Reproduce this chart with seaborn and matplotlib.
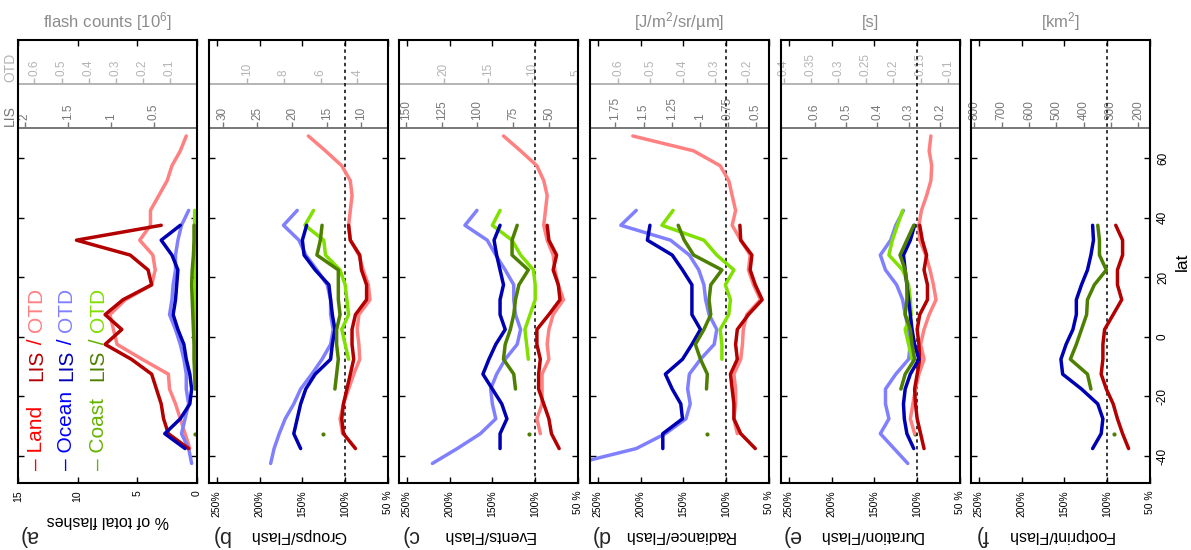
import numpy as np
import matplotlib
matplotlib.use("Agg")
import matplotlib.pyplot as plt
import seaborn as sns

sns.set_theme(style="white")
plt.rcParams["font.family"] = ["Liberation Sans", "DejaVu Sans"]
plt.rcParams["mathtext.fontset"] = "custom"
plt.rcParams["mathtext.rm"] = "Liberation Sans"
plt.rcParams["mathtext.default"] = "regular"

N = None

# latitude bin centres (deg)
LAT = [67.5, 62.5, 57.5, 52.5, 47.5, 42.5, 37.5, 32.5, 27.5, 22.5, 17.5, 12.5,
       7.5, 2.5, -2.5, -7.5, -12.5, -17.5, -22.5, -27.5, -32.5, -37.5, -42.5]

# a) % of total flashes
A_LAND_LIS = [N, N, N, N, N, N, 3.0, 10.1, 5.6, 4.1, 3.8, 6.2, 7.7, 6.3, 7.7, 5.5, 3.8, 3.4, 3.0, 2.8, 2.4, 0.7, N]
A_LAND_OTD = [0.9, 1.4, 2.1, 2.5, 3.2, 3.9, 3.9, 4.8, 3.7, 3.5, 3.8, 6.0, 7.3, 7.0, 6.7, 4.6, 2.4, 2.3, 1.8, 1.4, 1.0, 0.6, N]
A_OCEAN_LIS = [N, N, N, N, N, N, 1.4, 3.0, 2.1, 1.6, 1.7, 1.8, 2.0, 1.6, 1.1, 0.9, 0.6, 0.45, 0.6, 1.4, 2.7, 1.0, N]
A_OCEAN_OTD = [N, N, N, N, N, 0.7, 1.3, 1.6, 1.8, 1.8, 2.0, 2.1, 2.3, 1.8, 1.4, 1.1, 0.9, 0.9, 0.7, 1.0, 1.3, 0.7, 0.45]
A_COAST_LIS = [N, N, N, N, N, N, 0.25, 0.25, 0.3, 0.4, 0.45, 0.4, 0.35, 0.3, 0.25, 0.25, 0.2, 0.15, N, N, 0.15, N, N]
A_COAST_OTD = [N, N, N, N, N, 0.2, 0.2, 0.18, 0.15, 0.15, 0.15, 0.15, 0.15, 0.15, 0.15, 0.15, 0.15, 0.15, N, N, N, N, N]

# b) Groups/Flash (% of mean)
B_LAND_LIS = [N, N, N, N, N, N, 96, 94, 83, 81, 75, 75, 88, 92, 92, 90, 94, 98, 102, 104, 102, 88, N]
B_LAND_OTD = [143, 123, 104, 94, 92, 94, 96, 94, 84, 79, 73, 71, 84, 86, 84, 83, 90, 96, 102, 106, 103, N, N]
B_OCEAN_LIS = [N, N, N, N, N, N, 145, 150, 148, 135, 119, 117, 115, 112, 115, 117, 135, 146, 152, 156, 160, 152, N]
B_OCEAN_OTD = [N, N, N, N, N, 156, 172, 154, 146, 133, 121, 117, 117, 114, 117, 127, 139, 152, 160, 170, 177, 183, 187]
B_COAST_LIS = [N, N, N, N, N, N, 127, 129, 133, 108, 108, 108, 106, 110, 110, 108, 110, 112, N, N, 126, N, N]
B_COAST_OTD = [N, N, N, N, N, 137, 147, 125, 123, 106, 100, 98, 96, 104, 100, 96, N, N, N, N, N, N, N]

# c) Events/Flash
C_LAND_LIS = [N, N, N, N, N, N, 86, 84, 75, 79, 73, 71, 84, 98, 98, 94, 96, 96, 90, 84, 81, 72, N]
C_LAND_OTD = [137, 117, 98, 90, 86, 88, 90, 86, 79, 77, 73, 67, 79, 84, 86, 84, 92, 92, 92, 98, 94, N, N]
C_OCEAN_LIS = [N, N, N, N, N, N, 141, 148, 145, 141, 137, 141, 141, 135, 146, 154, 161, 150, 139, 133, 141, 141, N]
C_OCEAN_OTD = [N, N, N, N, N, 168, 182, 156, 146, 135, 125, 125, 123, 117, 121, 135, 145, 152, 150, 146, 164, 191, 220]
C_COAST_LIS = [N, N, N, N, N, N, 121, 127, 127, 108, 119, 123, 125, 129, 135, 137, 125, 123, N, N, 107, N, N]
C_COAST_OTD = [N, N, N, N, N, 141, 150, 127, 117, 102, 100, 100, 106, 112, 110, 108, N, N, N, N, N, N, N]

# d) Radiance/Flash
D_LAND_LIS = [N, N, N, N, N, N, 84, 83, 70, 72, 66, 58, 74, 87, 89, 87, 95, 93, 91, 91, 83, 66, N]
D_LAND_OTD = [209, 138, 107, 97, 93, 89, 93, 83, 72, 74, 68, 60, 76, 80, 81, 83, 91, 89, 89, 91, 87, N, N]
D_OCEAN_LIS = [N, N, N, N, N, N, 189, 192, 163, 151, 140, 140, 140, 130, 140, 151, 171, 163, 153, 151, 174, 174, N]
D_OCEAN_OTD = [N, N, N, N, N, 205, 223, 165, 143, 132, 126, 124, 120, 111, 114, 130, 143, 145, 142, 147, 171, 205, 275]
D_COAST_LIS = [N, N, N, N, N, N, 156, 149, 138, 105, 118, 120, 118, 126, 136, 130, 122, 123, N, N, 122, N, N]
D_COAST_OTD = [N, N, N, N, N, 162, 175, 126, 111, 91, 101, 95, 97, 107, 105, 105, N, N, N, N, N, N, N]

# e) Duration/Flash
E_LAND_LIS = [N, N, N, N, N, N, 97, 94, 89, 92, 88, 88, 97, 100, 98, 97, 100, 103, 102, 100, 96, 92, N]
E_LAND_OTD = [84, 86, 83, 84, 89, 95, 98, 97, 90, 85, 81, 78, 86, 92, 96, 92, 98, 102, 105, 108, 103, N, N]
E_OCEAN_LIS = [N, N, N, N, N, N, 103, 108, 116, 114, 112, 110, 108, 106, 103, 98, 108, 114, 116, 115, 112, 104, N]
E_OCEAN_OTD = [N, N, N, N, N, 116, 125, 131, 143, 137, 124, 117, 114, 110, 108, 110, 125, 137, 137, 133, 143, 127, 111]
E_COAST_LIS = [N, N, N, N, N, N, 104, 112, 120, 114, 112, 112, 114, 108, 106, 103, 114, 119, N, N, 103, N, N]
E_COAST_OTD = [N, N, N, N, N, 117, 123, 129, 133, 117, 110, 108, 107, 114, 110, 106, N, N, N, N, N, N, N]

# f) Footprint/Flash (LIS only)
F_LAND_LIS = [N, N, N, N, N, N, 90, 82, 82, 88, 88, 83, 93, 103, 105, 105, 107, 101, 93, 88, 82, 75, N]
F_OCEAN_LIS = [N, N, N, N, N, N, 117, 116, 119, 123, 130, 136, 136, 140, 148, 154, 152, 130, 111, 105, 107, 117, N]
F_COAST_LIS = [N, N, N, N, N, N, 111, 109, 109, 101, 115, 123, 124, 130, 136, 143, 123, 119, N, N, 92, N, N]

LETTERS = ["a)", "b)", "c)", "d)", "e)", "f)"]
XLABELS = ["% of total flashes", "Groups/Flash", "Events/Flash", "Radiance/Flash",
           "Duration/Flash", "Footprint/Flash"]
UNITS = ["flash counts [10$^6$]", "", "", "[J/m$^2$/sr/µm]", "[s]", "[km$^2$]"]

# header scales: absolute value -> plotted percentage factor
LIS_FACTOR = [7.22, 8.1, 1.674, 131, 366, 0.319]
OTD_FACTOR = [22.7, 21.45, 10.35, 377, 640, None]
LIS_TICKS = [[2, 1.5, 1, 0.5], [30, 25, 20, 15, 10], [150, 125, 100, 75, 50],
             [1.75, 1.5, 1.25, 1, 0.75, 0.5], [0.6, 0.5, 0.4, 0.3, 0.2],
             [800, 700, 600, 500, 400, 300, 200]]
OTD_TICKS = [[0.6, 0.5, 0.4, 0.3, 0.2, 0.1], [10, 8, 6, 4], [20, 15, 10, 5],
             [0.6, 0.5, 0.4, 0.3, 0.2], [0.4, 0.35, 0.3, 0.25, 0.2, 0.15, 0.1], []]

PCT_TICKS = [250, 200, 150, 100, 50]
PCT_LABELS = ["250%", "200%", "150%", "100%", "50 %"]
A_TICKS = [15, 10, 5, 0]
LAT_TICKS = [-40, -20, 0, 20, 40, 60]

COL = {"land_lis": "#b30000", "land_otd": "#ff8080",
       "ocean_lis": "#0000b3", "ocean_otd": "#8080ff",
       "coast_lis": "#4d7f00", "coast_otd": "#80e000"}

SERIES = [
    [("land_otd", A_LAND_OTD), ("ocean_otd", A_OCEAN_OTD), ("coast_otd", A_COAST_OTD),
     ("land_lis", A_LAND_LIS), ("ocean_lis", A_OCEAN_LIS), ("coast_lis", A_COAST_LIS)],
    [("land_otd", B_LAND_OTD), ("ocean_otd", B_OCEAN_OTD), ("coast_otd", B_COAST_OTD),
     ("land_lis", B_LAND_LIS), ("ocean_lis", B_OCEAN_LIS), ("coast_lis", B_COAST_LIS)],
    [("land_otd", C_LAND_OTD), ("ocean_otd", C_OCEAN_OTD), ("coast_otd", C_COAST_OTD),
     ("land_lis", C_LAND_LIS), ("ocean_lis", C_OCEAN_LIS), ("coast_lis", C_COAST_LIS)],
    [("land_otd", D_LAND_OTD), ("ocean_otd", D_OCEAN_OTD), ("coast_otd", D_COAST_OTD),
     ("land_lis", D_LAND_LIS), ("ocean_lis", D_OCEAN_LIS), ("coast_lis", D_COAST_LIS)],
    [("land_otd", E_LAND_OTD), ("ocean_otd", E_OCEAN_OTD), ("coast_otd", E_COAST_OTD),
     ("land_lis", E_LAND_LIS), ("ocean_lis", E_OCEAN_LIS), ("coast_lis", E_COAST_LIS)],
    [("land_lis", F_LAND_LIS), ("ocean_lis", F_OCEAN_LIS), ("coast_lis", F_COAST_LIS)],
]

LIS_GRAY = "#777777"
OTD_GRAY = "#b4b4b4"

# layout (pixels of the 1191x550 canvas)
W, H = 1191, 550
LEFTS = [18, 209, 399, 590, 781, 971]
BOX_W, BOX_TOP, BOX_BOT = 179, 40, 483
LIS_LINE = (BOX_BOT - 128) / (BOX_BOT - BOX_TOP)
OTD_LINE = (BOX_BOT - 84) / (BOX_BOT - BOX_TOP)
YLIM = (-49.07, 99.74)


def draw_series(ax, vals, color):
    v = np.array([np.nan if x is None else x for x in vals], float)
    lat = np.array(LAT, float)
    idx = np.flatnonzero(~np.isnan(v))
    runs = np.split(idx, np.where(np.diff(idx) > 1)[0] + 1)
    for r in runs:
        if len(r) > 1:
            sns.lineplot(x=v[r], y=lat[r], orient="y", sort=False, estimator=None,
                         color=color, linewidth=2.5, ax=ax, legend=False)
        elif len(r) == 1:
            sns.scatterplot(x=v[r], y=lat[r], color=color, s=9, linewidth=0,
                            ax=ax, legend=False)


def add_scale(ax, loc, k, ticks, color):
    sec = ax.secondary_xaxis(loc, functions=(lambda p, k=k: p / k, lambda v, k=k: v * k))
    sec.set_xticks(ticks, labels=[f"{t:g}" for t in ticks])
    sec.tick_params(axis="x", direction="out", length=4, width=1, colors=color,
                    labelsize=8.5, labelrotation=90, pad=1.5)
    for s in sec.spines.values():
        s.set_color(color)
        s.set_linewidth(1.4)
    return sec


fig = plt.figure(figsize=(W / 100, H / 100), dpi=100)

for i in range(6):
    ax = fig.add_axes([LEFTS[i] / W, (H - BOX_BOT) / H, BOX_W / W, (BOX_BOT - BOX_TOP) / H])

    for key, vals in SERIES[i]:
        draw_series(ax, vals, COL[key])

    if i > 0:
        ax.axvline(100, color="black", linestyle=(0, (2.2, 2.2)), linewidth=1.1, zorder=1)
        ax.set_xlim(259, 50)
        ax.set_xticks(PCT_TICKS, labels=PCT_LABELS)
    else:
        ax.set_xlim(15, 0)
        ax.set_xticks(A_TICKS, labels=[str(t) for t in A_TICKS])
    ax.set_ylim(*YLIM)
    ax.set_yticks(LAT_TICKS, labels=[str(t) for t in LAT_TICKS])

    for s in ax.spines.values():
        s.set_color("black")
        s.set_linewidth(1.5)

    ax.tick_params(axis="x", direction="in", length=4, width=1, top=True, bottom=True,
                   labelsize=7.5, labelrotation=90, pad=5, colors="black")
    ax.tick_params(axis="y", direction="in", length=4, width=1, left=True, right=True,
                   labelleft=False, labelright=(i == 5), labelsize=8.5,
                   labelrotation=90, pad=5, colors="black")
    if i == 5:
        for lbl in ax.yaxis.get_majorticklabels():
            lbl.set_va("center")
        ax.yaxis.set_label_position("right")
        ax.set_ylabel("lat", fontsize=12.5, rotation=90, labelpad=4, color="black")
    else:
        ax.set_ylabel("")

    ax.set_xlabel(XLABELS[i], rotation=180, fontsize=11.5, labelpad=8, color="black")
    ax.text(0.06, -0.118, LETTERS[i], rotation=180, fontsize=15.5, ha="center",
            va="center", transform=ax.transAxes)

    if UNITS[i]:
        ax.set_title(UNITS[i], color="#8c8c8c", fontsize=12, pad=9)

    add_scale(ax, LIS_LINE, LIS_FACTOR[i], LIS_TICKS[i], LIS_GRAY)
    if OTD_FACTOR[i] is not None:
        add_scale(ax, OTD_LINE, OTD_FACTOR[i], OTD_TICKS[i], OTD_GRAY)

    if i == 0:
        ax.text(-0.005, LIS_LINE + 0.004, "LIS", rotation=90, ha="right", va="bottom",
                color=LIS_GRAY, fontsize=10, transform=ax.transAxes)
        ax.text(-0.005, OTD_LINE + 0.004, "OTD", rotation=90, ha="right", va="bottom",
                color=OTD_GRAY, fontsize=10, transform=ax.transAxes)

        # legend written as coloured, rotated text
        rows = [(0.104, "Land", "#ff0000", COL["land_lis"], COL["land_otd"]),
                (0.272, "Ocean", "#0000ff", COL["ocean_lis"], COL["ocean_otd"]),
                (0.447, "Coast", "#66b300", COL["coast_lis"], COL["coast_otd"])]
        for x, name, c_name, c_lis, c_otd in rows:
            ax.text(x, 0.03, "– " + name, rotation=90, ha="center", va="bottom",
                    color=c_name, fontsize=15, transform=ax.transAxes)
            t1 = ax.text(x, 0.23, "LIS", rotation=90, ha="center", va="bottom",
                         color=c_lis, fontsize=15, transform=ax.transAxes)
            t2 = ax.annotate(" / ", xy=(0.5, 1), xycoords=t1, rotation=90, ha="center",
                             va="bottom", color=c_name, fontsize=15)
            ax.annotate("OTD", xy=(0.5, 1), xycoords=t2, rotation=90, ha="center",
                        va="bottom", color=c_otd, fontsize=15)

fig.savefig("out.png", dpi=100)
